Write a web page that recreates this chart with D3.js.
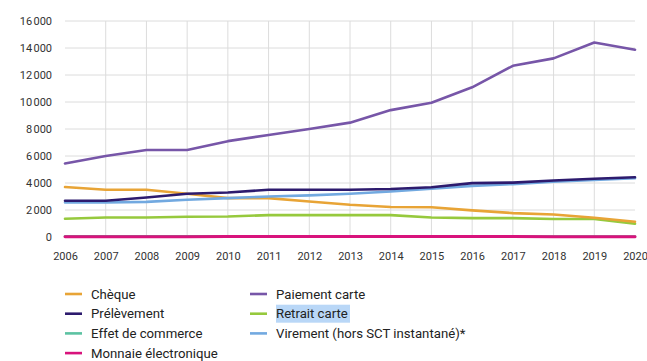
<!DOCTYPE html>
<html>
<head>
<meta charset="utf-8">
<script src="https://cdn.jsdelivr.net/npm/d3@7"></script>
<style>
  html, body { margin: 0; padding: 0; background: #fff; }
  svg { display: block; font-family: Roboto, "Noto Sans", sans-serif; }
</style>
</head>
<body>
<svg id="chart" width="647" height="361"></svg>
<script>
// Nombre de transactions (millions) par moyen de paiement, 2006-2020
const years = [2006, 2007, 2008, 2009, 2010, 2011, 2012, 2013, 2014, 2015, 2016, 2017, 2018, 2019, 2020];
const cheque = [3700, 3500, 3500, 3200, 2880, 2880, 2630, 2390, 2220, 2200, 1970, 1770, 1670, 1430, 1130];
const prelevement = [2680, 2680, 2930, 3200, 3300, 3500, 3500, 3500, 3550, 3680, 3990, 4030, 4180, 4310, 4430];
const effetCommerce = [60, 60, 55, 55, 50, 50, 50, 45, 45, 45, 40, 40, 40, 35, 30];
const monnaieElectronique = [10, 15, 20, 25, 30, 35, 40, 40, 45, 40, 35, 30, 25, 20, 15];
const paiementCarte = [5450, 6000, 6450, 6450, 7100, 7560, 8000, 8470, 9400, 9950, 11090, 12680, 13230, 14410, 13870];
const retraitCarte = [1350, 1450, 1450, 1500, 1520, 1620, 1620, 1620, 1620, 1450, 1400, 1400, 1330, 1330, 980];
const virement = [2560, 2560, 2600, 2760, 2880, 3000, 3080, 3200, 3370, 3570, 3790, 3920, 4090, 4230, 4360];
const yTicks = [0, 2000, 4000, 6000, 8000, 10000, 12000, 14000, 16000];

const series = [
  { name: "Chèque", values: cheque, color: "#e8a436" },
  { name: "Prélèvement", values: prelevement, color: "#2d1b6e" },
  { name: "Effet de commerce", values: effetCommerce, color: "#5cc2a2" },
  { name: "Monnaie électronique", values: monnaieElectronique, color: "#d8137c" },
  { name: "Paiement carte", values: paiementCarte, color: "#7756a8" },
  { name: "Retrait carte", values: retraitCarte, color: "#96c93d" },
  { name: "Virement (hors SCT instantané)*", values: virement, color: "#72a9e0" }
];
// Drawing order: small values under the magenta zero line
const drawOrder = ["Effet de commerce", "Retrait carte", "Chèque", "Virement (hors SCT instantané)*", "Prélèvement", "Paiement carte", "Monnaie électronique"];

const svg = d3.select("#chart");
const m = { left: 65, right: 12, top: 21, bottom: 124 };
const W = 647, H = 361;

const x = d3.scaleLinear().domain([2006, 2020]).range([m.left, W - m.right]);
const y = d3.scaleLinear().domain([0, 16000]).range([H - m.bottom, m.top]);

const fmt = v => d3.format(",")(v).replace(/,/g, "\u202F");

// Horizontal grid
svg.append("g")
  .selectAll("line").data(yTicks.filter(d => d > 0)).join("line")
  .attr("x1", x(2006)).attr("x2", x(2020))
  .attr("y1", d => y(d)).attr("y2", d => y(d))
  .attr("stroke", "#dcdcdc").attr("stroke-width", 1);

// Vertical grid
svg.append("g")
  .selectAll("line").data(years.slice(1, -1)).join("line")
  .attr("x1", d => x(d)).attr("x2", d => x(d))
  .attr("y1", y(16000)).attr("y2", y(0))
  .attr("stroke", "#dcdcdc").attr("stroke-width", 1);

// Y axis labels
const yAxis = svg.append("g")
  .attr("transform", `translate(${m.left - 13},0)`)
  .call(d3.axisLeft(y).tickValues(yTicks).tickFormat(fmt).tickSize(0).tickPadding(0));
yAxis.select(".domain").remove();
yAxis.selectAll("text").attr("font-size", 11).attr("fill", "#333").attr("font-family", "Roboto, sans-serif");

// X axis labels
const xAxis = svg.append("g")
  .attr("transform", `translate(0,${y(0) + 15})`)
  .call(d3.axisBottom(x).tickValues(years).tickFormat(d3.format("d")).tickSize(0).tickPadding(0));
xAxis.select(".domain").remove();
xAxis.selectAll("text").attr("font-size", 11).attr("fill", "#333").attr("font-family", "Roboto, sans-serif");

// Lines
const line = d3.line().x((d, i) => x(years[i])).y(d => y(d));
const byName = new Map(series.map(s => [s.name, s]));
svg.append("g")
  .selectAll("path").data(drawOrder.map(n => byName.get(n))).join("path")
  .attr("d", s => line(s.values))
  .attr("fill", "none")
  .attr("stroke", s => s.color)
  .attr("stroke-width", s => s.name === "Monnaie électronique" ? 3 : 2.6)
  .attr("stroke-linejoin", "round")
  .attr("stroke-linecap", "round");

// Legend (two columns)
const legend = svg.append("g");
const cols = [
  { x: 65, items: series.slice(0, 4) },
  { x: 250, items: series.slice(4) }
];
cols.forEach(col => {
  col.items.forEach((s, i) => {
    const ly = 294 + i * 19.7;
    const g = legend.append("g").attr("transform", `translate(${col.x},${ly})`);
    if (s.name === "Retrait carte") {
      g.append("rect").attr("x", 26).attr("y", -9).attr("width", 74).attr("height", 18)
        .attr("fill", "#b9d7f7");
    }
    g.append("line").attr("x1", 0).attr("x2", 17).attr("y1", 0).attr("y2", 0)
      .attr("stroke", s.color).attr("stroke-width", 2.6);
    g.append("text").attr("x", 26).attr("y", 0).attr("dy", "0.35em")
      .attr("font-size", 13.2).attr("fill", "#222").text(s.name);
  });
});
</script>
</body>
</html>
